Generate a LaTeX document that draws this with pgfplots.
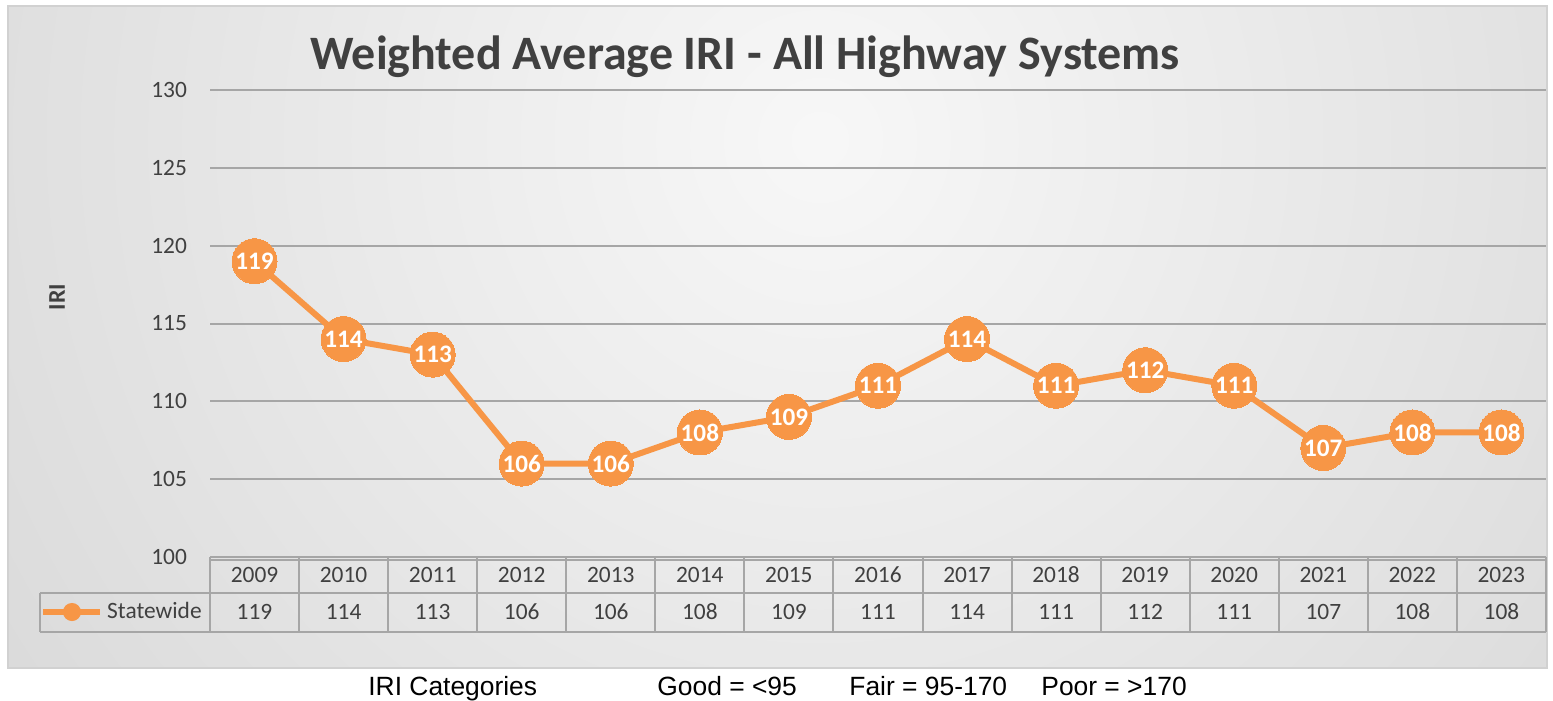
\documentclass[border=0pt]{standalone}
\usepackage{pgfplots}
\pgfplotsset{compat=1.18}
\usepackage{pgfplotstable}
\usepackage{fontspec}
\setmainfont{Carlito}
\newfontfamily\arialfont{Liberation Sans}
\definecolor{iriorange}{HTML}{F79646}
\definecolor{txtgray}{HTML}{404040}
\definecolor{gridgray}{HTML}{A6A6A6}

\pgfplotstableread{
year iri
2009 119
2010 114
2011 113
2012 106
2013 106
2014 108
2015 109
2016 111
2017 114
2018 111
2019 112
2020 111
2021 107
2022 108
2023 108
}\iridata

\begin{document}
\begin{tikzpicture}
\useasboundingbox (0pt,0pt) rectangle (776.5pt,-350.5pt);
\begin{scope}[x=0.5pt,y=-0.5pt]
\begin{scope}
\clip (8,6) rectangle (1547,668);
\shade[inner color=white!97!black, outer color=black!25] (820,140) circle (1900);
\end{scope}
\draw[black!18, line width=0.75pt] (8,6) rectangle (1547,668);
\node[font=\bfseries\fontsize{24}{24}\selectfont, text=txtgray] at (745,57) {Weighted Average IRI - All Highway Systems};
\node[font=\bfseries\fontsize{12}{12}\selectfont, text=txtgray, rotate=90] at (57,297) {IRI};
% data table grid
\draw[gridgray, line width=1pt] (210,560) -- (1546,560);
\draw[gridgray, line width=1pt] (40,593) -- (1546,593);
\draw[gridgray, line width=1pt] (40,632) -- (1546,632);
\draw[gridgray, line width=1pt] (40,593) -- (40,632);
\foreach \k in {0,...,15} \draw[gridgray, line width=1pt] ({210+\k*89.0667},557) -- ({210+\k*89.0667},632);
% footer
\node[font=\arialfont\fontsize{13.2}{13.2}\selectfont, anchor=base west, inner sep=0pt] at (368,695) {IRI Categories};
\node[font=\arialfont\fontsize{13.2}{13.2}\selectfont, anchor=base west, inner sep=0pt] at (657,695) {Good = <95};
\node[font=\arialfont\fontsize{13.2}{13.2}\selectfont, anchor=base west, inner sep=0pt] at (849,695) {Fair = 95-170};
\node[font=\arialfont\fontsize{13.2}{13.2}\selectfont, anchor=base west, inner sep=0pt] at (1041,695) {Poor = >170};
\end{scope}
\begin{axis}[
  at={(105pt,-278.5pt)}, anchor=south west,
  scale only axis, width=668pt, height=233.5pt,
  xmin=2008.5, xmax=2023.5, ymin=100, ymax=130,
  xtick={2009,...,2023}, ytick={100,105,...,130},
  /pgf/number format/1000 sep={},
  /pgf/number format/assume math mode=true,
  axis line style={draw=none}, tick style={draw=none},
  ymajorgrids, major grid style={gridgray, line width=1pt},
  clip=false,
  tick label style={font=\fontsize{11.7}{12}\selectfont, text=txtgray},
  yticklabel style={xshift=-8pt},
  xticklabel style={anchor=center, yshift=-9pt},
  legend style={at={(-0.1270,-0.1178)}, anchor=west, draw=none, fill=none, inner sep=0pt,
    font=\fontsize{11.7}{12}\selectfont, text=txtgray},
  legend cell align=left,
  legend image code/.code={\draw[iriorange, line width=2.75pt] (0pt,0pt) -- (28.5pt,0pt); \fill[iriorange] (14.25pt,0pt) circle (3pt);},
]
\addplot[color=iriorange, line width=3pt, mark=*, mark size=11.25pt,
  mark options={fill=iriorange, draw=iriorange, line width=0pt},
  nodes near coords,
  every node near coord/.append style={anchor=center, text=white, font=\bfseries\fontsize{12.6}{13}\selectfont}]
  table[x=year, y=iri] {\iridata};
\addlegendentry{Statewide}
\addplot[forget plot, draw=none, mark=none, nodes near coords, point meta=explicit,
  every node near coord/.append style={anchor=center, text=txtgray, font=\fontsize{11.7}{12}\selectfont}]
  table[x=year, y expr=96.47, meta=iri] {\iridata};
\end{axis}
\end{tikzpicture}
\end{document}
